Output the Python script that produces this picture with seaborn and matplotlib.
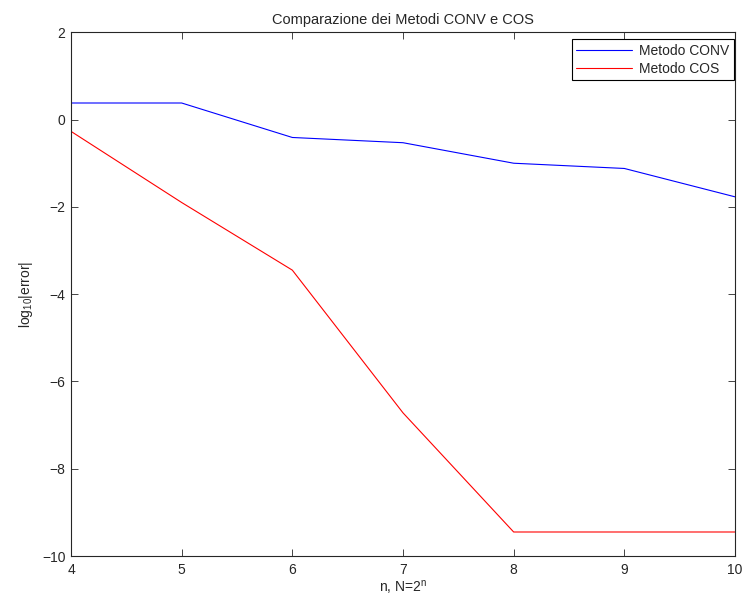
import matplotlib
matplotlib.use("Agg")
import matplotlib.pyplot as plt
import seaborn as sns
import pandas as pd

n_values = [4, 5, 6, 7, 8, 9, 10]
conv_err = [0.38, 0.38, -0.41, -0.53, -1.00, -1.12, -1.77]
cos_err = [-0.27, -1.90, -3.45, -6.72, -9.45, -9.45, -9.45]
series_names = ["Metodo CONV", "Metodo COS"]
x_ticks = [4, 5, 6, 7, 8, 9, 10]
y_ticks = [-10, -8, -6, -4, -2, 0, 2]

sns.set_style("ticks")
plt.rcParams['font.family'] = ['Liberation Sans', 'DejaVu Sans']
plt.rcParams['mathtext.default'] = 'regular'

df = pd.concat([
    pd.DataFrame({"n": n_values, "err": conv_err, "Metodo": series_names[0]}),
    pd.DataFrame({"n": n_values, "err": cos_err, "Metodo": series_names[1]}),
])

fig = plt.figure(figsize=(7.45, 6.03), dpi=100)
ax = fig.add_axes([71/745, 1-556/603, (735-71)/745, (556-32.3)/603])
sns.lineplot(data=df, x="n", y="err", hue="Metodo", palette=["#0000ff", "#ff0000"],
             linewidth=0.8, ax=ax, legend=True)

ax.set_xlim(4, 10)
ax.set_ylim(-10, 2)
ax.set_xticks(x_ticks)
ax.set_yticks(y_ticks)
ax.tick_params(direction='in', top=True, right=True, labelsize=10, length=5, width=0.6)
ax.tick_params(axis='x', pad=5)
ax.tick_params(axis='y', pad=4)
for s in ax.spines.values():
    s.set_linewidth(0.8)
    s.set_visible(True)
ax.set_title("Comparazione dei Metodi CONV e COS", fontsize=10.5, pad=6)
ax.set_xlabel("n, N=2$^n$", fontsize=10, labelpad=1)
ax.set_ylabel("log$_{10}$|error|", fontsize=10, labelpad=5)

leg = ax.legend(loc='upper right', bbox_to_anchor=(1.0 - 1/664, 1.0 - 7/524),
                borderaxespad=0, fontsize=10, fancybox=False, framealpha=1,
                edgecolor='black', handlelength=4.0, borderpad=0.35, labelspacing=0.25,
                handletextpad=0.5)
leg.get_frame().set_linewidth(0.8)

fig.savefig("out.png", dpi=100)
